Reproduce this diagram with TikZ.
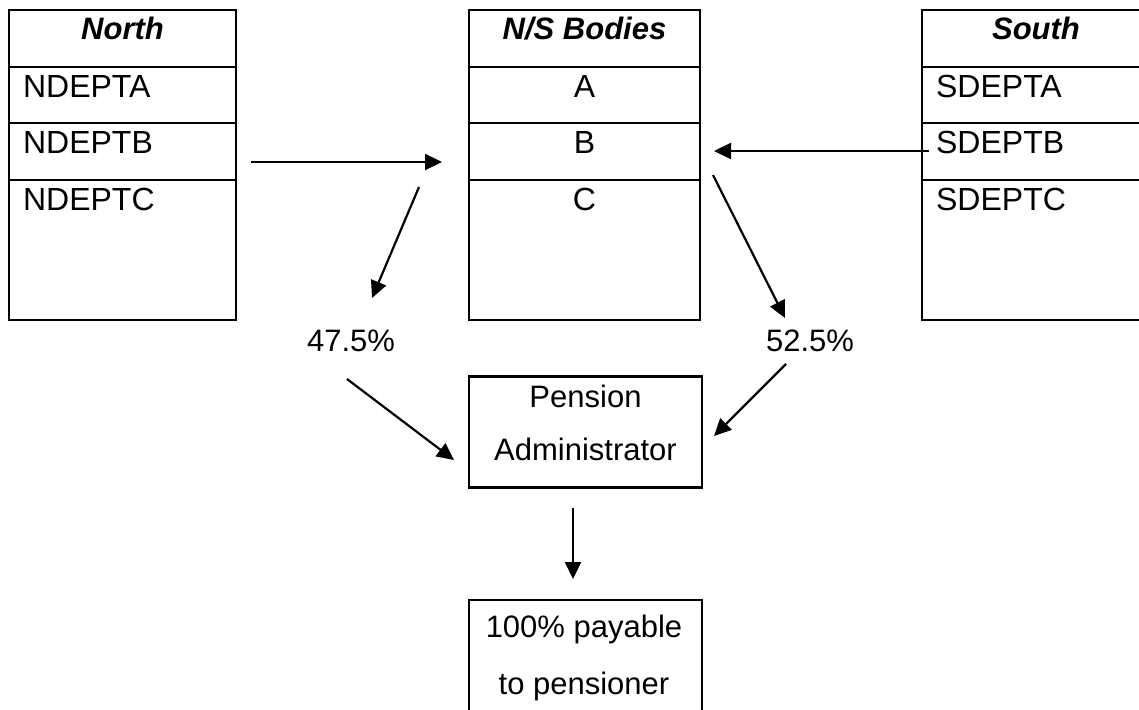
\documentclass[tikz,border=0pt]{standalone}
\usepackage{fontspec}
\setmainfont{Liberation Sans}
\usetikzlibrary{calc,arrows.meta}

\begin{document}
\begin{tikzpicture}[x=1pt,y=-1pt,line width=2.2pt,
	txt/.style={inner sep=0pt,font=\fontsize{31}{37}\selectfont},
	row/.style={inner sep=0pt,font=\fontsize{32}{37}\selectfont},
	head/.style={txt,font=\fontsize{31}{37}\selectfont\bfseries\itshape},
	arrow/.style={-{Triangle[length=17pt,width=16pt]}},
	box/.style={draw,rectangle,minimum width=233pt,minimum height=111pt,inner sep=0pt}]

% frame %{{{2

	\useasboundingbox (0,0) rectangle (1139,709);

% parameters %{{{2

	\def\tabtop{10}
	\def\tabbottom{320}

% tables %{{{2

	\foreach \xl/\xr in {9/236, 469/700, 922/1150} {
		\draw (\xl,\tabtop) rectangle (\xr,\tabbottom);
		\foreach \y in {67,123,180} { \draw (\xl,\y) -- (\xr,\y); }
	}

% table texts %{{{2

	\node[head,anchor=base] (northhead) at (122.5,40) {North};
	\node[head,anchor=base] (bodyhead) at (584.5,40) {N/S Bodies};
	\node[head,anchor=base] (southhead) at (1036,40) {South};

	\foreach \l/\y in {A/97,B/153,C/210} {
		\node[row,anchor=base west] (north\l) at (22,\y) {NDEPT\l};
		\node[row,anchor=base] (body\l) at (584.5,\y) {\l};
		\node[row,anchor=base west] (south\l) at (935,\y) {SDEPT\l};
	}

% shares %{{{2

	\node[txt,anchor=base] (northshare) at (351,351) {47.5\%};
	\node[txt,anchor=base] (southshare) at (810,351) {52.5\%};

% boxes %{{{2

	\node[box] (admin) at (585.5,432) {};
	\node[txt,anchor=base] (adminA) at (585.5,407) {Pension};
	\node[txt,anchor=base] (adminB) at (585.5,460) {Administrator};

	\node[box,anchor=north] (payee) at (585.5,599) {};
	\node[txt,anchor=base] (payeeA) at (584,637) {100\% payable};
	\node[txt,anchor=base] (payeeB) at (584,694) {to pensioner};

% arrow ends %{{{2

	\coordinate (northout) at (251,162);
	\coordinate (bodyinL) at (442,162);
	\coordinate (bodyoutL) at (419,187);
	\coordinate (nsharein) at (372,298);
	\coordinate (southout) at (929,151);
	\coordinate (bodyinR) at (714,151);
	\coordinate (bodyoutR) at (713,175);
	\coordinate (ssharein) at (785,318);
	\coordinate (nshareout) at (347,379);
	\coordinate (admininL) at (454,460);
	\coordinate (sshareout) at (786,364);
	\coordinate (admininR) at (714,436);
	\coordinate (adminout) at (573,508);
	\coordinate (payeein) at (573,579);

% arrows %{{{2

	\draw[arrow] (northout) -- (bodyinL);
	\draw[arrow] (bodyoutL) -- (nsharein);
	\draw[arrow] (southout) -- (bodyinR);
	\draw[arrow] (bodyoutR) -- (ssharein);
	\draw[arrow] (nshareout) -- (admininL);
	\draw[arrow] (sshareout) -- (admininR);
	\draw[arrow] (adminout) -- (payeein);

% closing %{{{2

\end{tikzpicture}
\end{document}
